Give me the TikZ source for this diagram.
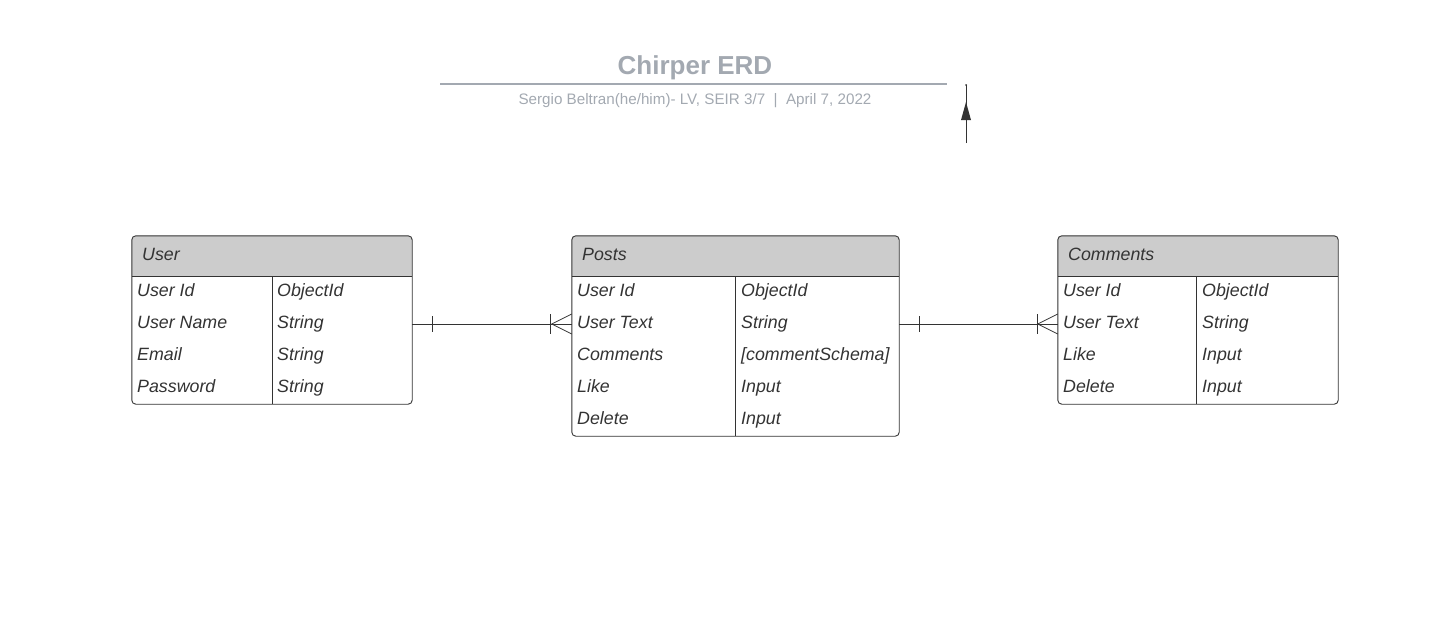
\documentclass[tikz,border=0pt]{standalone}
\usepackage{fontspec}
\setmainfont{Liberation Sans}
\usetikzlibrary{calc}
\definecolor{hdr}{HTML}{CCCCCC}
\definecolor{ink}{HTML}{333333}
\definecolor{ttl}{HTML}{A3A9B1}
\tikzset{
  tbl/.style={draw=ink, line width=0.9pt, rounded corners=4pt},
  cell/.style={anchor=base west, inner sep=0pt, text=ink, font=\fontsize{17.8}{20}\selectfont\itshape},
  conn/.style={draw=ink, line width=0.8pt},
}
\begin{document}
\begin{tikzpicture}[x=1pt,y=-1pt]
\useasboundingbox (0,0) rectangle (1429,630);
% title
\node[font=\fontsize{26}{30}\selectfont\bfseries, text=ttl, inner sep=0pt, anchor=base] (title) at (695,74) {Chirper ERD};
\draw[ttl, line width=1.5pt] (440,84) -- (947,84);
\node[font=\fontsize{15.2}{18}\selectfont, text=ttl, inner sep=0pt, anchor=base] (sub) at (695,104) {Sergio Beltran(he/him)- LV, SEIR 3/7 \ \textbar\ \ April 7, 2022};
% small arrow
\coordinate (ab) at (966,143);
\coordinate (at) at (966,85);
\draw[ink, line width=0.8pt] (ab) -- (at);
\fill[ink] (966,102) -- (961,120) -- (971,120) -- cycle;
\fill[ink] (at) circle (1pt);

% ---- User table
\node[minimum width=280pt, minimum height=168pt, inner sep=0pt] (user) at (272,320) {};
\fill[hdr] (user.west |- 0,276) [rounded corners=4pt] -- (user.north west) -- (user.north east) [sharp corners] -- (user.east |- 0,276) -- cycle;
\draw[tbl] (user.north west) rectangle (user.south east);
\draw[ink, line width=0.9pt] (user.west |- 0,276) -- (user.east |- 0,276);
\draw[ink, line width=0.9pt] (272,276) -- (user.south -| 272,0);
\node[cell] (uh) at (142,260) {User};
\node[cell] (u1a) at (137,296) {User Id};      \node[cell] (u1b) at (277,296) {ObjectId};
\node[cell] (u2a) at (137,328) {User Name};    \node[cell] (u2b) at (277,328) {String};
\node[cell] (u3a) at (137,360) {Email};        \node[cell] (u3b) at (277,360) {String};
\node[cell] (u4a) at (137,392) {Password};     \node[cell] (u4b) at (277,392) {String};

% ---- Posts table
\node[minimum width=327pt, minimum height=200pt, inner sep=0pt] (posts) at (735.5,336) {};
\fill[hdr] (posts.west |- 0,276) [rounded corners=4pt] -- (posts.north west) -- (posts.north east) [sharp corners] -- (posts.east |- 0,276) -- cycle;
\draw[tbl] (posts.north west) rectangle (posts.south east);
\draw[ink, line width=0.9pt] (posts.west |- 0,276) -- (posts.east |- 0,276);
\draw[ink, line width=0.9pt] (735,276) -- (posts.south -| 735,0);
\node[cell] (ph) at (582,260) {Posts};
\node[cell] (p1a) at (577,296) {User Id};      \node[cell] (p1b) at (741,296) {ObjectId};
\node[cell] (p2a) at (577,328) {User Text};    \node[cell] (p2b) at (741,328) {String};
\node[cell] (p3a) at (577,360) {Comments};     \node[cell] (p3b) at (741,360) {[commentSchema]};
\node[cell] (p4a) at (577,392) {Like};         \node[cell] (p4b) at (741,392) {Input};
\node[cell] (p5a) at (577,424) {Delete};       \node[cell] (p5b) at (741,424) {Input};

% ---- Comments table
\node[minimum width=280pt, minimum height=168pt, inner sep=0pt] (comments) at (1198,320) {};
\fill[hdr] (comments.west |- 0,276) [rounded corners=4pt] -- (comments.north west) -- (comments.north east) [sharp corners] -- (comments.east |- 0,276) -- cycle;
\draw[tbl] (comments.north west) rectangle (comments.south east);
\draw[ink, line width=0.9pt] (comments.west |- 0,276) -- (comments.east |- 0,276);
\draw[ink, line width=0.9pt] (1196,276) -- (comments.south -| 1196,0);
\node[cell] (ch) at (1068,260) {Comments};
\node[cell] (c1a) at (1063,296) {User Id};     \node[cell] (c1b) at (1202,296) {ObjectId};
\node[cell] (c2a) at (1063,328) {User Text};   \node[cell] (c2b) at (1202,328) {String};
\node[cell] (c3a) at (1063,360) {Like};        \node[cell] (c3b) at (1202,360) {Input};
\node[cell] (c4a) at (1063,392) {Delete};      \node[cell] (c4b) at (1202,392) {Input};

% ---- connectors
\coordinate (uR) at (user.east |- 0,324);
\coordinate (pL) at (posts.west |- 0,324);
\coordinate (pR) at (posts.east |- 0,324);
\coordinate (cL) at (comments.west |- 0,324);
\draw[conn] (uR) -- (pL);
\draw[conn] ($(uR)+(20,-8)$) -- ($(uR)+(20,8)$);
\draw[conn] ($(pL)+(-21,-10)$) -- ($(pL)+(-21,10)$);
\draw[conn] ($(pL)+(0,-10)$) -- ($(pL)+(-20,0)$) -- ($(pL)+(0,10)$);
\draw[conn] (pR) -- (cL);
\draw[conn] ($(pR)+(20,-8)$) -- ($(pR)+(20,8)$);
\draw[conn] ($(cL)+(-20,-10)$) -- ($(cL)+(-20,10)$);
\draw[conn] ($(cL)+(0,-10)$) -- ($(cL)+(-20,0)$) -- ($(cL)+(0,10)$);
\end{tikzpicture}
\end{document}
